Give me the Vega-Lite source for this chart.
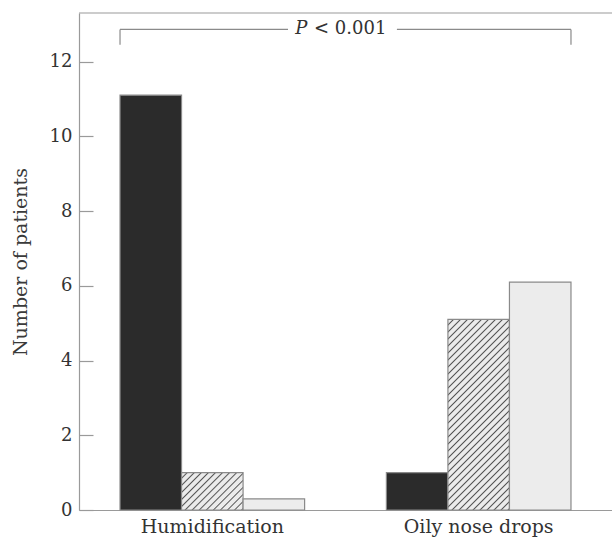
{
  "$schema": "https://vega.github.io/schema/vega-lite/v6.json",
  "width": 533,
  "height": 497,
  "autosize": {"type": "none"},
  "padding": {"left": 79, "top": 13, "right": 0, "bottom": 28},
  "background": "white",
  "config": {
    "font": "DejaVu Serif",
    "view": {"stroke": null}
  },
  "datasets": {
    "counts": [
      {"treatment": "Humidification", "outcome": "Outcome 1", "patients": 11.1},
      {"treatment": "Humidification", "outcome": "Outcome 2", "patients": 1},
      {"treatment": "Humidification", "outcome": "Outcome 3", "patients": 0.3},
      {"treatment": "Oily nose drops", "outcome": "Outcome 1", "patients": 1},
      {"treatment": "Oily nose drops", "outcome": "Outcome 2", "patients": 5.1},
      {"treatment": "Oily nose drops", "outcome": "Outcome 3", "patients": 6.1}
    ],
    "annotation": [
      {"left": "Humidification", "right": "Oily nose drops", "level": 12.86, "drop": 12.45, "stat": "P", "comparison": "< 0.001", "frame": 13.3}
    ]
  },
  "layer": [
    {
      "data": {"name": "counts"},
      "mark": {"type": "bar", "stroke": "#8a8a8a", "strokeWidth": 1.2},
      "encoding": {
        "x": {
          "field": "treatment",
          "type": "nominal",
          "scale": {"paddingInner": 0.307, "paddingOuter": 0.154},
          "axis": {
            "title": null,
            "labelAngle": 0,
            "labelFontSize": 19,
            "labelColor": "#333333",
            "labelPadding": 7,
            "ticks": false,
            "domainColor": "#9a9a9a",
            "domainWidth": 1.2
          }
        },
        "xOffset": {
          "field": "outcome",
          "type": "nominal",
          "scale": {"paddingInner": 0, "paddingOuter": 0}
        },
        "y": {
          "field": "patients",
          "type": "quantitative",
          "scale": {"domain": [0, 13.3], "nice": false},
          "axis": {
            "title": "Number of patients",
            "values": [0, 2, 4, 6, 8, 10, 12],
            "grid": false,
            "tickSize": -14,
            "tickColor": "#9a9a9a",
            "tickWidth": 1.2,
            "domainColor": "#9a9a9a",
            "domainWidth": 1.2,
            "labelFontSize": 18,
            "labelColor": "#333333",
            "labelPadding": 21,
            "titleFontSize": 19,
            "titleFontWeight": "normal",
            "titleColor": "#3a3a3a",
            "titlePadding": 19
          }
        },
        "fill": {
          "condition": [
            {
              "test": "datum.treatment === 'Humidification' && datum.outcome === 'Outcome 2'",
              "value": {
                "gradient": "linear", "x1": 0, "y1": 0, "x2": 1.174, "y2": 0.713,
                "stops": [
                  {"offset": 0, "color": "#ebebeb"}, {"offset": 0.04286, "color": "#ebebeb"}, {"offset": 0.05714, "color": "#555555"},
                  {"offset": 0.07143, "color": "#ebebeb"}, {"offset": 0.11429, "color": "#ebebeb"}, {"offset": 0.12857, "color": "#555555"},
                  {"offset": 0.14286, "color": "#ebebeb"}, {"offset": 0.18571, "color": "#ebebeb"}, {"offset": 0.2, "color": "#555555"},
                  {"offset": 0.21429, "color": "#ebebeb"}, {"offset": 0.25714, "color": "#ebebeb"}, {"offset": 0.27143, "color": "#555555"},
                  {"offset": 0.28571, "color": "#ebebeb"}, {"offset": 0.32857, "color": "#ebebeb"}, {"offset": 0.34286, "color": "#555555"},
                  {"offset": 0.35714, "color": "#ebebeb"}, {"offset": 0.4, "color": "#ebebeb"}, {"offset": 0.41429, "color": "#555555"},
                  {"offset": 0.42857, "color": "#ebebeb"}, {"offset": 0.47143, "color": "#ebebeb"}, {"offset": 0.48571, "color": "#555555"},
                  {"offset": 0.5, "color": "#ebebeb"}, {"offset": 0.54286, "color": "#ebebeb"}, {"offset": 0.55714, "color": "#555555"},
                  {"offset": 0.57143, "color": "#ebebeb"}, {"offset": 0.61429, "color": "#ebebeb"}, {"offset": 0.62857, "color": "#555555"},
                  {"offset": 0.64286, "color": "#ebebeb"}, {"offset": 0.68571, "color": "#ebebeb"}, {"offset": 0.7, "color": "#555555"},
                  {"offset": 0.71429, "color": "#ebebeb"}, {"offset": 0.75714, "color": "#ebebeb"}, {"offset": 0.77143, "color": "#555555"},
                  {"offset": 0.78571, "color": "#ebebeb"}, {"offset": 0.82857, "color": "#ebebeb"}, {"offset": 0.84286, "color": "#555555"},
                  {"offset": 0.85714, "color": "#ebebeb"}, {"offset": 0.9, "color": "#ebebeb"}, {"offset": 0.91429, "color": "#555555"},
                  {"offset": 0.92857, "color": "#ebebeb"}, {"offset": 0.97143, "color": "#ebebeb"}, {"offset": 0.98571, "color": "#555555"},
                  {"offset": 1, "color": "#ebebeb"}
                ]
              }
            },
            {
              "test": "datum.treatment === 'Oily nose drops' && datum.outcome === 'Outcome 2'",
              "value": {
                "gradient": "linear", "x1": 0, "y1": 0, "x2": 0.387, "y2": 1.198,
                "stops": [
                  {"offset": 0, "color": "#ebebeb"}, {"offset": 0.01667, "color": "#ebebeb"}, {"offset": 0.02222, "color": "#555555"},
                  {"offset": 0.02778, "color": "#ebebeb"}, {"offset": 0.04444, "color": "#ebebeb"}, {"offset": 0.05, "color": "#555555"},
                  {"offset": 0.05556, "color": "#ebebeb"}, {"offset": 0.07222, "color": "#ebebeb"}, {"offset": 0.07778, "color": "#555555"},
                  {"offset": 0.08333, "color": "#ebebeb"}, {"offset": 0.1, "color": "#ebebeb"}, {"offset": 0.10556, "color": "#555555"},
                  {"offset": 0.11111, "color": "#ebebeb"}, {"offset": 0.12778, "color": "#ebebeb"}, {"offset": 0.13333, "color": "#555555"},
                  {"offset": 0.13889, "color": "#ebebeb"}, {"offset": 0.15556, "color": "#ebebeb"}, {"offset": 0.16111, "color": "#555555"},
                  {"offset": 0.16667, "color": "#ebebeb"}, {"offset": 0.18333, "color": "#ebebeb"}, {"offset": 0.18889, "color": "#555555"},
                  {"offset": 0.19444, "color": "#ebebeb"}, {"offset": 0.21111, "color": "#ebebeb"}, {"offset": 0.21667, "color": "#555555"},
                  {"offset": 0.22222, "color": "#ebebeb"}, {"offset": 0.23889, "color": "#ebebeb"}, {"offset": 0.24444, "color": "#555555"},
                  {"offset": 0.25, "color": "#ebebeb"}, {"offset": 0.26667, "color": "#ebebeb"}, {"offset": 0.27222, "color": "#555555"},
                  {"offset": 0.27778, "color": "#ebebeb"}, {"offset": 0.29444, "color": "#ebebeb"}, {"offset": 0.3, "color": "#555555"},
                  {"offset": 0.30556, "color": "#ebebeb"}, {"offset": 0.32222, "color": "#ebebeb"}, {"offset": 0.32778, "color": "#555555"},
                  {"offset": 0.33333, "color": "#ebebeb"}, {"offset": 0.35, "color": "#ebebeb"}, {"offset": 0.35556, "color": "#555555"},
                  {"offset": 0.36111, "color": "#ebebeb"}, {"offset": 0.37778, "color": "#ebebeb"}, {"offset": 0.38333, "color": "#555555"},
                  {"offset": 0.38889, "color": "#ebebeb"}, {"offset": 0.40556, "color": "#ebebeb"}, {"offset": 0.41111, "color": "#555555"},
                  {"offset": 0.41667, "color": "#ebebeb"}, {"offset": 0.43333, "color": "#ebebeb"}, {"offset": 0.43889, "color": "#555555"},
                  {"offset": 0.44444, "color": "#ebebeb"}, {"offset": 0.46111, "color": "#ebebeb"}, {"offset": 0.46667, "color": "#555555"},
                  {"offset": 0.47222, "color": "#ebebeb"}, {"offset": 0.48889, "color": "#ebebeb"}, {"offset": 0.49444, "color": "#555555"},
                  {"offset": 0.5, "color": "#ebebeb"}, {"offset": 0.51667, "color": "#ebebeb"}, {"offset": 0.52222, "color": "#555555"},
                  {"offset": 0.52778, "color": "#ebebeb"}, {"offset": 0.54444, "color": "#ebebeb"}, {"offset": 0.55, "color": "#555555"},
                  {"offset": 0.55556, "color": "#ebebeb"}, {"offset": 0.57222, "color": "#ebebeb"}, {"offset": 0.57778, "color": "#555555"},
                  {"offset": 0.58333, "color": "#ebebeb"}, {"offset": 0.6, "color": "#ebebeb"}, {"offset": 0.60556, "color": "#555555"},
                  {"offset": 0.61111, "color": "#ebebeb"}, {"offset": 0.62778, "color": "#ebebeb"}, {"offset": 0.63333, "color": "#555555"},
                  {"offset": 0.63889, "color": "#ebebeb"}, {"offset": 0.65556, "color": "#ebebeb"}, {"offset": 0.66111, "color": "#555555"},
                  {"offset": 0.66667, "color": "#ebebeb"}, {"offset": 0.68333, "color": "#ebebeb"}, {"offset": 0.68889, "color": "#555555"},
                  {"offset": 0.69444, "color": "#ebebeb"}, {"offset": 0.71111, "color": "#ebebeb"}, {"offset": 0.71667, "color": "#555555"},
                  {"offset": 0.72222, "color": "#ebebeb"}, {"offset": 0.73889, "color": "#ebebeb"}, {"offset": 0.74444, "color": "#555555"},
                  {"offset": 0.75, "color": "#ebebeb"}, {"offset": 0.76667, "color": "#ebebeb"}, {"offset": 0.77222, "color": "#555555"},
                  {"offset": 0.77778, "color": "#ebebeb"}, {"offset": 0.79444, "color": "#ebebeb"}, {"offset": 0.8, "color": "#555555"},
                  {"offset": 0.80556, "color": "#ebebeb"}, {"offset": 0.82222, "color": "#ebebeb"}, {"offset": 0.82778, "color": "#555555"},
                  {"offset": 0.83333, "color": "#ebebeb"}, {"offset": 0.85, "color": "#ebebeb"}, {"offset": 0.85556, "color": "#555555"},
                  {"offset": 0.86111, "color": "#ebebeb"}, {"offset": 0.87778, "color": "#ebebeb"}, {"offset": 0.88333, "color": "#555555"},
                  {"offset": 0.88889, "color": "#ebebeb"}, {"offset": 0.90556, "color": "#ebebeb"}, {"offset": 0.91111, "color": "#555555"},
                  {"offset": 0.91667, "color": "#ebebeb"}, {"offset": 0.93333, "color": "#ebebeb"}, {"offset": 0.93889, "color": "#555555"},
                  {"offset": 0.94444, "color": "#ebebeb"}, {"offset": 0.96111, "color": "#ebebeb"}, {"offset": 0.96667, "color": "#555555"},
                  {"offset": 0.97222, "color": "#ebebeb"}, {"offset": 0.98889, "color": "#ebebeb"}, {"offset": 0.99444, "color": "#555555"},
                  {"offset": 1, "color": "#ebebeb"}
                ]
              }
            }
          ],
          "field": "outcome",
          "type": "nominal",
          "scale": {"domain": ["Outcome 1", "Outcome 2", "Outcome 3"], "range": ["#2b2b2b", "#bdbdbd", "#ececec"]},
          "legend": null
        }
      }
    },
    {
      "data": {"name": "annotation"},
      "mark": {"type": "rule", "color": "#9a9a9a", "strokeWidth": 1.2},
      "encoding": {
        "y": {"field": "frame", "type": "quantitative"}
      }
    },
    {
      "data": {"name": "annotation"},
      "mark": {"type": "rule", "color": "#8a8a8a", "strokeWidth": 1.2},
      "encoding": {
        "x": {"field": "left", "type": "nominal", "bandPosition": 0},
        "x2": {"field": "left", "bandPosition": 0.91},
        "y": {"field": "level", "type": "quantitative"}
      }
    },
    {
      "data": {"name": "annotation"},
      "mark": {"type": "rule", "color": "#8a8a8a", "strokeWidth": 1.2},
      "encoding": {
        "x": {"field": "right", "type": "nominal", "bandPosition": 0.057},
        "x2": {"field": "right", "bandPosition": 1},
        "y": {"field": "level", "type": "quantitative"}
      }
    },
    {
      "data": {"name": "annotation"},
      "mark": {"type": "rule", "color": "#8a8a8a", "strokeWidth": 1.2},
      "encoding": {
        "x": {"field": "left", "type": "nominal", "bandPosition": 0},
        "y": {"field": "level", "type": "quantitative"},
        "y2": {"field": "drop"}
      }
    },
    {
      "data": {"name": "annotation"},
      "mark": {"type": "rule", "color": "#8a8a8a", "strokeWidth": 1.2},
      "encoding": {
        "x": {"field": "right", "type": "nominal", "bandPosition": 1},
        "y": {"field": "level", "type": "quantitative"},
        "y2": {"field": "drop"}
      }
    },
    {
      "data": {"name": "annotation"},
      "mark": {"type": "text", "align": "right", "baseline": "middle", "fontSize": 18, "color": "#333333", "dx": 0},
      "encoding": {
        "x": {"field": "right", "type": "nominal", "bandPosition": 0},
        "y": {"field": "level", "type": "quantitative"},
        "text": {"field": "comparison"}
      }
    },
    {
      "data": {"name": "annotation"},
      "mark": {"type": "text", "align": "right", "baseline": "middle", "fontSize": 18, "fontStyle": "italic", "color": "#333333", "dx": -79},
      "encoding": {
        "x": {"field": "right", "type": "nominal", "bandPosition": 0},
        "y": {"field": "level", "type": "quantitative"},
        "text": {"field": "stat"}
      }
    }
  ]
}
